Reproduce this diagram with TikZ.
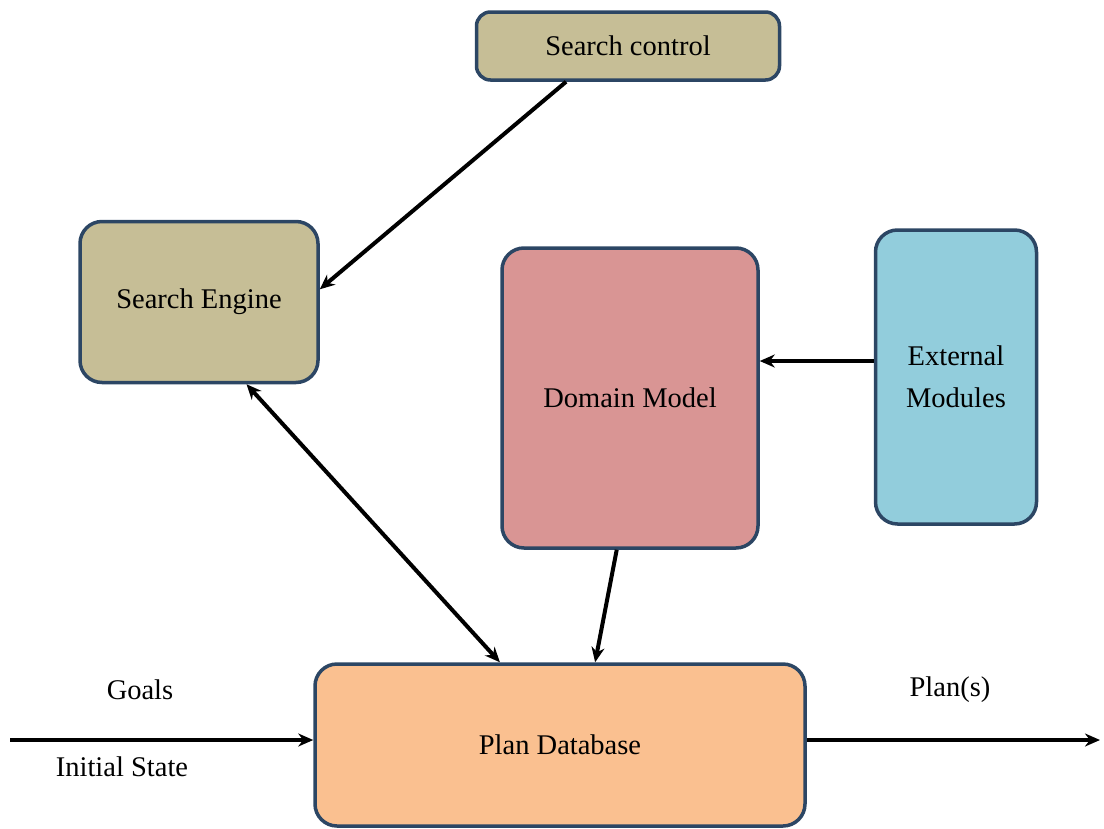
\documentclass[tikz,border=0pt]{standalone}
\usepackage{fontspec}
\setmainfont{Liberation Serif}
\usetikzlibrary{arrows.meta}

\definecolor{bordercol}{RGB}{44,70,100}
\definecolor{tancol}{RGB}{198,190,150}
\definecolor{pinkcol}{RGB}{217,149,148}
\definecolor{bluecol}{RGB}{146,205,220}
\definecolor{peachcol}{RGB}{250,192,144}

\tikzset{
  box/.style={draw=bordercol, line width=3.5pt, rounded corners=22pt,
    inner sep=0pt, align=center, font=\fontsize{28.5}{42}\selectfont},
  link/.style={line width=4pt, black},
  lbl/.style={font=\fontsize{28.5}{32}\selectfont}
}

\begin{document}
\begin{tikzpicture}[x=1pt, y=-1pt, >={Stealth[length=15pt, width=13pt]}, line join=round]
		% Bounding box (image size in px)
		\useasboundingbox (0,0) rectangle (1104,828);
		
		% Boxes
		\node[box, fill=tancol, rounded corners=14pt, minimum width=303pt, minimum height=68pt]
			(sc) at (628,46) {Search control};
		\node[box, fill=tancol, minimum width=238pt, minimum height=161pt]
			(se) at (199,302) {Search Engine};
		\node[box, fill=pinkcol, minimum width=256pt, minimum height=300pt]
			(dm) at (630,398) {Domain Model};
		\node[box, fill=bluecol, minimum width=161pt, minimum height=294pt]
			(ext) at (956,377) {External\\Modules};
		\node[box, fill=peachcol, minimum width=490pt, minimum height=162pt]
			(pd) at (560,745) {Plan Database};
		
		% Free ends of the input and output arrows
		\coordinate (in) at (10,740);
		\coordinate (out) at (1100,740);
		
		% Connectors
		\draw[link, ->] (sc.210) -- (se.6);
		\draw[link, <->] (se.-60) -- (pd.126);
		\draw[link, ->] (dm.-95) -- (pd.67);
		\draw[link, ->] (ext.169) -- (ext.169 -| dm.east);
		\draw[link, ->] (in) -- (in -| pd.west);
		\draw[link, ->] (out -| pd.east) -- (out);
		
		% Labels on the input and output
		\node[lbl] (goals) at (140,690) {Goals};
		\node[lbl] (init) at (122,767) {Initial State};
		\node[lbl] (plans) at (950,690) {Plan(s)};
	\end{tikzpicture}
\end{document}
